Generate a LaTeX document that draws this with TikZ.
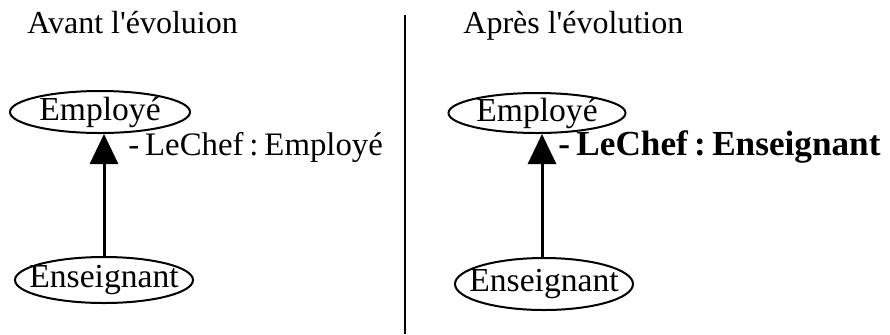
\documentclass[tikz,border=0pt]{standalone}
\usepackage{fontspec}
\setmainfont{Liberation Serif}
\usetikzlibrary{shapes.geometric,arrows.meta}
\newcommand{\ap}{\textquotesingle}
\newcommand{\esp}{\hspace{.18em}}
\tikzset{
  classe/.style={draw,ellipse,line width=1pt,inner xsep=-6pt,inner ysep=-1pt,font=\fontsize{16.8}{19}\selectfont},
  titre/.style={anchor=base west,inner sep=0pt,font=\fontsize{16}{19}\selectfont},
  attr/.style={anchor=base west,inner sep=0pt,font=\fontsize{16.4}{19}\selectfont},
  herite/.style={-{Triangle[length=15pt,width=14pt]},line width=1.5pt}
}
\begin{document}
\begin{tikzpicture}[x=0.5pt,y=-0.5pt]
			\useasboundingbox (0,0) rectangle (890,334);
			\coordinate (H) at (405,15);
			\coordinate (B) at (405,334);
			\draw[line width=1.3pt] (H) -- (B);

			% avant
			\node[titre] (t1) at (27,33) {Avant l\ap évoluion};
			\node[classe,minimum width=90pt,minimum height=21pt] (emp1) at (100,112) {Employé};
			\node[classe,minimum width=89pt,minimum height=23pt] (ens1) at (104,280) {Enseignant};
			\draw[herite] (ens1.north) -- (ens1.north |- emp1.south);
			\node[attr] (a1) at (128,155) {-\esp LeChef\esp:\esp Employé};

			% apres
			\node[titre] (t2) at (463,33) {Après l\ap évolution};
			\node[classe,minimum width=88.5pt,minimum height=20pt] (emp2) at (537,113) {Employé};
			\node[classe,minimum width=89pt,minimum height=26pt] (ens2) at (544,284) {Enseignant};
			\coordinate (f2) at (542,0);
			\draw[herite] (ens2.north -| f2) -- (f2 |- emp2.south);
			\node[attr,font=\fontsize{17.6}{20}\selectfont\bfseries] (a2) at (558,155) {-\esp LeChef\esp:\esp Enseignant};
\end{tikzpicture}
\end{document}
